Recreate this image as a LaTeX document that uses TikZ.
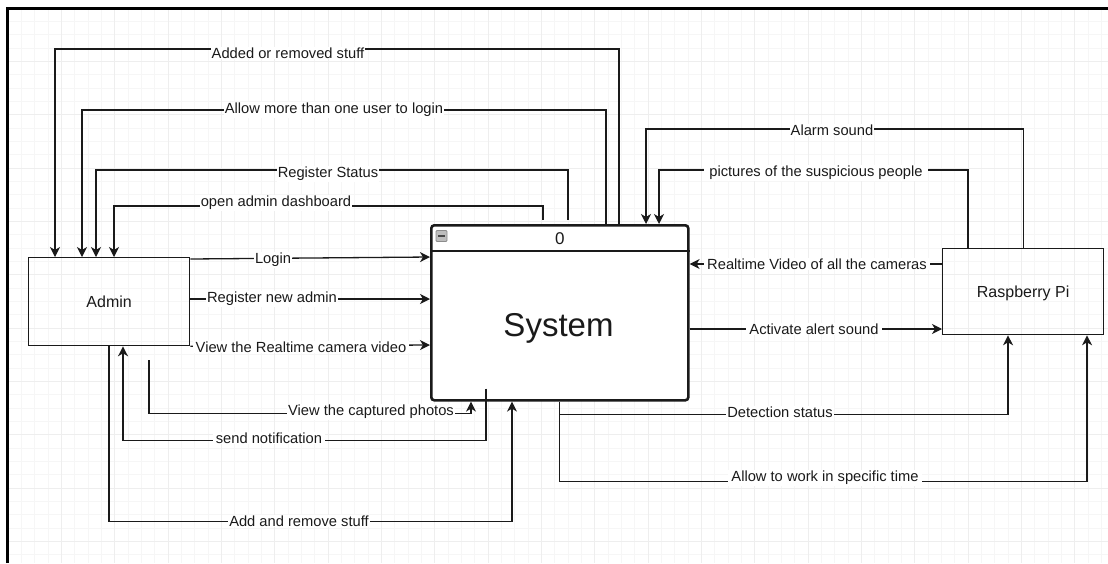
\documentclass[tikz,border=0pt]{standalone}
\usepackage{fontspec}
\setmainfont{Liberation Sans}
\usetikzlibrary{arrows.meta}
\definecolor{gridminor}{HTML}{F6F6F6}
\definecolor{gridmajor}{HTML}{EEEEEE}
\definecolor{iconfill}{HTML}{BDBDBD}
\definecolor{iconedge}{HTML}{8C8C8C}
\definecolor{ink}{HTML}{1A1A1A}
\begin{document}
\begin{tikzpicture}[x=1pt,y=-1pt,
  entity/.style={draw=ink, line width=1.3pt, inner sep=0pt, minimum width=161pt,
    font=\fontsize{16}{19}\selectfont, text=ink, text height=11.5pt, text depth=0pt},
  process/.style={draw=ink, line width=2.6pt, rounded corners=3pt, inner sep=0pt,
    minimum width=257pt, minimum height=175pt},
  link/.style={draw=ink, line width=1.3pt},
  flow/.style={link, -{Stealth[length=10pt,width=10pt,inset=3pt]}},
  lbl/.style={fill=white, inner xsep=1pt, inner ysep=1pt, text=ink,
    font=\fontsize{14.7}{17}\selectfont},
]
\useasboundingbox (0,0) rectangle (1108,563);

% background grid inside the frame
\foreach \k in {1,...,82} {
  \pgfmathsetmacro\gx{8+13.3333*\k}
  \draw[gridminor, line width=0.8pt] (\gx,8) -- (\gx,563);
}
\foreach \k in {1,...,41} {
  \pgfmathsetmacro\gy{8+13.3333*\k}
  \draw[gridminor, line width=0.8pt] (8,\gy) -- (1108,\gy);
}
\foreach \k in {1,...,20} {
  \pgfmathsetmacro\gx{8+53.3333*\k}
  \draw[gridmajor, line width=0.8pt] (\gx,8) -- (\gx,563);
}
\foreach \k in {1,...,10} {
  \pgfmathsetmacro\gy{8+53.3333*\k}
  \draw[gridmajor, line width=0.8pt] (8,\gy) -- (1108,\gy);
}

% frame
\draw[black, line width=2.2pt] (7.5,563) -- (7.5,8.5) -- (1108,8.5);

% entities and process
\node[entity, minimum height=88pt, anchor=north west] (admin) at (28,257) {Admin};
\node[entity, minimum height=86pt, anchor=north west] (rpi) at (942,248) {Raspberry Pi};
\node[process, fill=white, anchor=north west] (sys) at (430,224) {};
\draw[ink, line width=2.2pt] ([yshift=-27pt]sys.north west) -- ([yshift=-27pt]sys.north east);
\node[text=ink, font=\fontsize{17}{20}\selectfont, text height=12.2pt, text depth=0pt] (sysnum) at ([yshift=-14pt]sys.north) {0};
\node[text=ink, font=\fontsize{33}{38}\selectfont, text height=23.6pt, text depth=0pt] (sysname) at (558.5,325) {System};
\node[draw=iconedge, fill=iconfill, line width=0.8pt, rounded corners=1pt,
  minimum width=11pt, minimum height=11pt, inner sep=0pt] (collapse) at (441.5,236) {};
\draw[ink!80, line width=1.6pt] ([xshift=-3.5pt]collapse.center) -- ([xshift=3.5pt]collapse.center);

% data flows into Admin from System
\draw[flow] ([xshift=189pt]sys.north west) -- ++(0,-175) -| ([xshift=27pt]admin.north west);
\draw[flow] ([xshift=176pt]sys.north west) -- ++(0,-114) -| ([xshift=54pt]admin.north west);
\draw[flow] ([xshift=138pt,yshift=4pt]sys.north west) -- ++(0,-50) -| ([xshift=68pt]admin.north west);
\draw[flow] ([xshift=113pt,yshift=4pt]sys.north west) -- ++(0,-14) -| ([xshift=86pt]admin.north west);

% Admin to System
\draw[flow] ([yshift=-2pt]admin.north east) -- ([yshift=-33pt]sys.north west);
\draw[flow] ([yshift=-42pt]admin.north east) -- ([yshift=-75pt]sys.north west);
\draw[flow] (admin.south east) -- ([yshift=-121pt]sys.north west);
\draw[flow] ([xshift=121pt,yshift=-14pt]admin.south west) -- ++(0,53) -| ([xshift=41pt]sys.south west);
\draw[flow] ([xshift=56pt,yshift=13pt]sys.south west) -- ++(0,52) -| ([xshift=95pt]admin.south west);
\draw[flow] ([xshift=81pt]admin.south west) -- ++(0,175) -| ([xshift=82pt]sys.south west);

% Raspberry Pi and System
\draw[flow] (rpi.north) -- ++(0,-119) -| ([xshift=216pt]sys.north west);
\draw[flow] ([xshift=26pt]rpi.north west) -- ++(0,-78) -| ([xshift=229pt]sys.north west);
\draw[flow] ([yshift=-16pt]rpi.north west) -- ([yshift=-40pt]sys.north east);
\draw[flow] ([yshift=-105pt]sys.north east) -- ([yshift=-81pt]rpi.north west);
\draw[flow] (sys.south) -- ++(0,13) -| ([xshift=66pt]rpi.south west);
\draw[flow] (sys.south) -- ++(0,80) -| ([xshift=145pt]rpi.south west);

% flow labels
\node[lbl] (l1) at (288,53) {Added or removed stuff};
\node[lbl] (l2) at (334,110) {Allow more than one user to login};
\node[lbl] (l3) at (328,174) {Register Status};
\node[lbl] (l4) at (276,203) {open admin dashboard};
\node[lbl] (l5) at (832,130) {Alarm sound};
\node[lbl, inner xsep=5pt] (l6) at (816,173) {pictures of the suspicious people};
\node[lbl, inner xsep=3pt] (l7) at (817,264) {Realtime Video of all the cameras};
\node[lbl, inner xsep=3pt] (l8) at (814,329) {Activate alert sound};
\node[lbl] (l9) at (780,412) {Detection status};
\node[lbl, inner xsep=3pt] (l10) at (825,478) {Allow to work in specific time};
\node[lbl] (l11) at (273,260) {Login};
\node[lbl] (l12) at (272,299) {Register new admin};
\node[lbl, inner xsep=3pt] (l13) at (301,347) {View the Realtime camera video};
\node[lbl] (l14) at (371,412) {View the captured photos};
\node[lbl, inner xsep=3pt] (l15) at (269,438) {send notification};
\node[lbl] (l16) at (299,521) {Add and remove stuff};
\end{tikzpicture}
\end{document}
